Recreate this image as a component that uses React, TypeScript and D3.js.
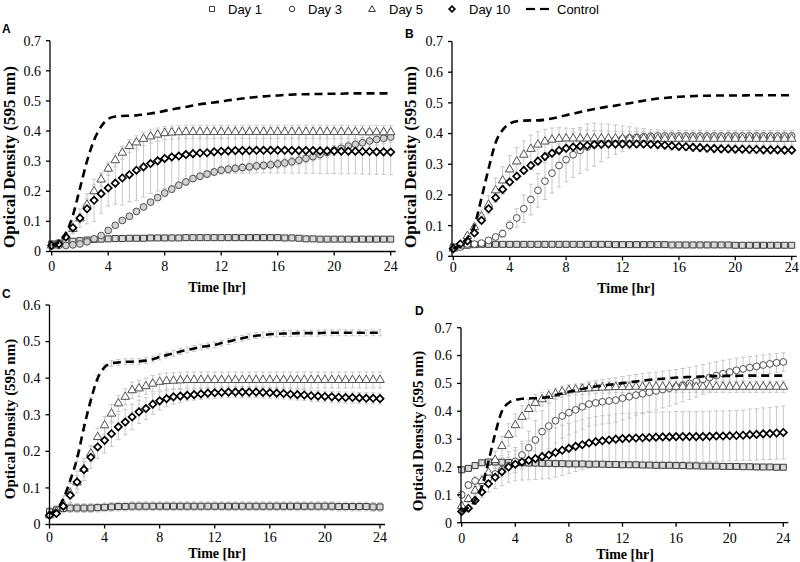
import React from 'react';
import * as d3 from 'd3';

// ---------- DATA ----------
const TIME = [0,0.5,1,1.5,2,2.5,3,3.5,4,4.5,5,5.5,6,6.5,7,7.5,8,8.5,9,9.5,10,10.5,11,11.5,12,12.5,13,13.5,14,14.5,15,15.5,16,16.5,17,17.5,18,18.5,19,19.5,20,20.5,21,21.5,22,22.5,23,23.5,24];
const X_TICKS = [0,4,8,12,16,20,24];
const SERIES_NAMES = ['Day 1','Day 3','Day 5','Day 10','Control'];

// Panel A
const A_DAY1 = [.025,.028,.031,.034,.036,.038,.040,.041,.042,.043, .043,.044,.044,.044,.045,.045,.045,.045,.045,.046, .046,.046,.046,.046,.046,.046,.046,.046,.046,.046, .046,.046,.046,.045,.045,.044,.042,.042,.041,.041, .041,.041,.041,.041,.041,.041,.041,.041,.041];
const A_DAY3 = [.020,.020,.020,.022,.025,.032,.042,.053,.070,.087, .103,.117,.133,.148,.164,.179,.194,.207,.220,.231, .242,.250,.257,.264,.270,.273,.276,.279,.281,.284, .286,.288,.291,.294,.298,.303,.309,.315,.322,.329, .336,.343,.350,.356,.361,.367,.372,.376,.380];
const A_DAY5 = [.020,.025,.050,.075,.110,.155,.200,.239,.275,.303, .328,.350,.362,.374,.382,.388,.393,.395,.396,.397, .397,.397,.397,.397,.397,.397,.397,.397,.397,.397, .397,.397,.397,.397,.397,.397,.397,.397,.397,.397, .397,.397,.397,.397,.396,.396,.396,.396,.396];
const A_DAY10 = [.020,.025,.048,.079,.111,.142,.170,.192,.211,.227, .244,.255,.270,.281,.292,.301,.309,.314,.317,.322, .325,.327,.328,.331,.333,.334,.335,.335,.335,.336, .336,.336,.336,.336,.335,.335,.335,.335,.334,.334, .334,.333,.333,.333,.332,.332,.331,.331,.330];
const A_CTRL = [.020,.030,.060,.120,.210,.300,.370,.415,.440,.448, .450,.451,.452,.455,.458,.462,.467,.472,.476,.480, .485,.489,.492,.495,.498,.502,.505,.508,.511,.513, .515,.517,.518,.520,.521,.522,.522,.523,.523,.524, .524,.524,.525,.525,.525,.525,.525,.525,.525];
const A_ERR1 = [.003,.003,.003,.003,.003,.003,.004,.004,.004,.004, .004,.004,.004,.004,.004,.004,.004,.004,.004,.004, .004,.004,.004,.004,.004,.004,.004,.004,.004,.004, .004,.004,.004,.004,.004,.004,.004,.004,.004,.004, .004,.004,.004,.004,.004,.004,.004,.004,.004];
const A_ERR3 = [.003,.003,.003,.003,.004,.004,.005,.005,.006,.006, .007,.007,.008,.008,.008,.009,.009,.010,.010,.010, .010,.011,.011,.011,.012,.012,.012,.012,.013,.013, .013,.013,.014,.014,.014,.015,.015,.015,.015,.016, .016,.016,.016,.017,.017,.017,.018,.018,.018];
const A_ERR5 = [.003,.004,.006,.010,.015,.020,.022,.022,.022,.022, .022,.022,.022,.022,.022,.022,.022,.022,.022,.022, .022,.022,.022,.022,.022,.022,.022,.022,.022,.022, .022,.022,.022,.022,.022,.022,.022,.022,.022,.022, .022,.022,.022,.022,.022,.022,.022,.022,.022];
const A_ERR10 = [.003,.004,.008,.020,.030,.050,.070,.065,.060,.070, .090,.090,.100,.100,.100,.100,.100,.095,.090,.088, .085,.082,.080,.078,.076,.075,.075,.075,.075,.075, .075,.075,.075,.075,.075,.075,.075,.075,.075,.075, .075,.075,.075,.075,.075,.075,.075,.075,.075];

// Panel B
const B_DAY1 = [.030,.033,.036,.038,.039,.039,.039,.039,.039,.039, .039,.039,.039,.039,.039,.039,.039,.039,.039,.039, .039,.039,.039,.038,.038,.038,.038,.038,.038,.038, .038,.037,.037,.037,.037,.037,.037,.037,.037,.037, .036,.036,.036,.036,.036,.036,.036,.036,.036];
const B_DAY3 = [.030,.030,.040,.040,.043,.052,.063,.074,.101,.125, .155,.185,.215,.245,.271,.296,.315,.331,.345,.356, .364,.370,.376,.380,.383,.386,.388,.390,.391,.392, .392,.392,.392,.392,.392,.392,.392,.392,.392,.392, .392,.392,.392,.392,.392,.392,.392,.392,.392];
const B_DAY5 = [.025,.035,.066,.095,.130,.168,.215,.247,.283,.309, .331,.350,.364,.374,.380,.383,.384,.384,.384,.384, .384,.384,.384,.384,.384,.384,.384,.384,.383,.383, .383,.383,.383,.383,.383,.383,.383,.383,.383,.383, .383,.383,.383,.383,.383,.383,.383,.383,.383];
const B_DAY10 = [.025,.040,.050,.076,.117,.155,.191,.218,.242,.261, .280,.296,.310,.325,.336,.345,.352,.356,.359,.361, .364,.365,.366,.366,.366,.366,.366,.366,.365,.364, .362,.360,.358,.357,.355,.354,.352,.351,.350,.350, .349,.349,.348,.348,.347,.347,.347,.346,.346];
const B_CTRL = [.025,.035,.060,.100,.190,.285,.370,.412,.432,.440, .442,.443,.443,.445,.449,.454,.460,.465,.470,.475, .480,.484,.488,.491,.495,.499,.503,.507,.511,.514, .516,.518,.520,.521,.522,.523,.523,.524,.524,.524, .524,.524,.525,.525,.525,.525,.525,.525,.525];
const B_ERR1 = [.004,.004,.004,.004,.004,.004,.004,.004,.004,.004, .004,.004,.004,.004,.004,.004,.004,.004,.004,.004, .004,.004,.004,.004,.004,.004,.004,.004,.004,.004, .004,.004,.004,.004,.004,.004,.004,.004,.004,.004, .004,.004,.004,.004,.004,.004,.004,.004,.004];
const B_ERR3 = [.004,.004,.004,.004,.005,.006,.010,.012,.015,.030, .045,.050,.055,.060,.065,.070,.072,.074,.075,.075, .070,.062,.055,.048,.042,.036,.030,.026,.022,.020, .018,.018,.018,.018,.018,.018,.018,.018,.018,.018, .018,.018,.018,.018,.018,.018,.018,.018,.018];
const B_ERR5 = [.004,.005,.008,.012,.020,.030,.040,.045,.045,.045, .045,.045,.042,.040,.038,.036,.034,.032,.030,.028, .026,.025,.024,.023,.022,.022,.022,.022,.022,.022, .020,.020,.020,.020,.020,.020,.020,.020,.020,.020, .020,.020,.020,.020,.020,.020,.020,.020,.020];
const B_ERR10 = [.004,.004,.006,.008,.010,.012,.012,.012,.012,.012, .012,.012,.012,.012,.012,.012,.012,.012,.012,.012, .012,.012,.012,.012,.012,.012,.012,.012,.012,.012, .012,.012,.012,.012,.012,.012,.012,.012,.012,.012, .012,.012,.012,.012,.012,.012,.012,.012,.012];

// Panel C (no Day 3 series)
const C_DAY1 = [.035,.040,.044,.045,.045,.045,.045,.046,.047,.048, .049,.049,.050,.050,.050,.050,.050,.050,.050,.050, .050,.050,.050,.050,.050,.050,.050,.050,.050,.050, .050,.050,.050,.050,.050,.050,.050,.050,.050,.050, .050,.050,.049,.049,.049,.049,.049,.048,.048];
const C_DAY5 = [.025,.035,.055,.085,.115,.152,.194,.239,.271,.303, .331,.349,.367,.372,.378,.385,.390,.392,.393,.394, .395,.395,.395,.395,.395,.395,.395,.395,.395,.395, .395,.395,.395,.395,.395,.395,.395,.395,.395,.395, .395,.395,.395,.395,.395,.395,.395,.395,.395];
const C_DAY10 = [.025,.030,.050,.080,.116,.150,.184,.212,.230,.248, .267,.280,.294,.308,.317,.329,.338,.344,.349,.351, .353,.355,.357,.359,.360,.361,.362,.362,.362,.362, .362,.361,.360,.359,.358,.356,.355,.354,.352,.351, .350,.349,.348,.347,.347,.346,.345,.345,.344];
const C_CTRL = [.030,.040,.070,.120,.180,.265,.340,.400,.430,.440, .443,.445,.445,.446,.448,.452,.458,.463,.468,.473, .477,.481,.485,.488,.491,.496,.500,.505,.509,.513, .516,.518,.520,.521,.522,.522,.523,.523,.523,.523, .524,.524,.524,.524,.524,.524,.524,.524,.524];
const C_ERR1 = [.012,.012,.012,.012,.012,.012,.012,.012,.012,.012, .012,.012,.012,.012,.012,.012,.012,.012,.012,.012, .012,.012,.012,.012,.012,.012,.012,.012,.012,.012, .012,.012,.012,.012,.012,.012,.012,.012,.012,.012, .012,.012,.012,.012,.012,.012,.012,.012,.012];
const C_ERR5 = [.004,.005,.008,.012,.018,.020,.022,.024,.024,.025, .022,.022,.022,.022,.022,.022,.022,.022,.022,.022, .022,.022,.022,.022,.022,.022,.022,.022,.022,.022, .022,.022,.022,.022,.022,.022,.022,.022,.022,.022, .022,.022,.022,.022,.022,.022,.022,.022,.022];
const C_ERR10 = [.004,.006,.010,.020,.030,.030,.030,.032,.035,.035, .035,.035,.035,.032,.030,.028,.025,.022,.020,.018, .015,.015,.015,.015,.015,.015,.015,.015,.015,.015, .015,.015,.015,.015,.015,.015,.015,.015,.015,.015, .015,.015,.015,.015,.015,.015,.015,.015,.015];
const C_ERRC = [.008,.008,.008,.008,.008,.008,.008,.008,.008,.008, .008,.008,.008,.008,.008,.008,.008,.008,.008,.008, .008,.008,.008,.008,.008,.008,.008,.008,.008,.008, .008,.008,.008,.008,.008,.008,.008,.008,.008,.008, .008,.008,.008,.008,.008,.008,.008,.008,.008];

// Panel D
const D_DAY1 = [.190,.195,.205,.215,.218,.218,.217,.216,.215,.215, .214,.214,.213,.213,.212,.212,.211,.211,.211,.210, .210,.210,.209,.209,.208,.208,.208,.207,.207,.206, .206,.206,.205,.205,.204,.204,.203,.203,.203,.202, .202,.202,.201,.201,.200,.200,.200,.199,.199];
const D_DAY3 = [.100,.135,.150,.145,.160,.175,.190,.205,.220,.243, .269,.297,.327,.347,.366,.383,.395,.405,.416,.426, .430,.434,.437,.440,.447,.452,.458,.463,.468,.473, .478,.483,.488,.494,.500,.507,.514,.521,.528,.535, .541,.547,.552,.557,.561,.566,.570,.574,.577];
const D_DAY5 = [.060,.085,.115,.150,.180,.225,.275,.315,.350,.380, .408,.430,.443,.455,.463,.470,.475,.478,.480,.482, .484,.485,.486,.487,.487,.487,.488,.488,.488,.488, .488,.488,.488,.488,.488,.488,.488,.488,.488,.488, .488,.488,.488,.488,.488,.488,.488,.488,.488];
const D_DAY10 = [.040,.052,.080,.110,.140,.163,.183,.200,.210,.218, .224,.230,.237,.243,.252,.260,.267,.274,.280,.286, .291,.294,.297,.300,.302,.303,.304,.305,.306,.307, .308,.308,.309,.309,.309,.309,.309,.310,.311,.311, .312,.313,.314,.316,.317,.319,.320,.322,.324];
const D_CTRL = [.040,.055,.080,.130,.220,.320,.400,.430,.440,.445, .446,.447,.448,.452,.458,.464,.470,.475,.480,.485, .489,.492,.495,.498,.501,.504,.507,.510,.513,.515, .517,.519,.521,.522,.523,.524,.525,.526,.526,.527, .527,.527,.528,.528,.528,.528,.528,.528,.528];
const D_ERR1 = [.008,.008,.008,.008,.008,.008,.008,.008,.008,.008, .008,.008,.008,.008,.008,.008,.008,.008,.008,.008, .008,.008,.008,.008,.008,.008,.008,.008,.008,.008, .008,.008,.008,.008,.008,.008,.008,.008,.008,.008, .008,.008,.008,.008,.008,.008,.008,.008,.008];
const D_ERR3 = [.010,.012,.015,.015,.018,.020,.025,.030,.040,.050, .060,.070,.075,.080,.080,.080,.080,.080,.080,.080, .080,.080,.080,.080,.078,.076,.074,.072,.070,.068, .066,.064,.062,.060,.058,.056,.054,.052,.050,.048, .046,.044,.042,.040,.038,.036,.035,.034,.033];
const D_ERR5 = [.010,.012,.015,.020,.025,.030,.035,.040,.040,.040, .035,.030,.025,.022,.020,.020,.020,.020,.020,.020, .020,.020,.020,.020,.020,.020,.020,.020,.020,.020, .020,.020,.020,.020,.020,.020,.020,.020,.020,.020, .020,.020,.020,.020,.020,.020,.020,.020,.020];
const D_ERR10 = [.008,.010,.015,.020,.030,.040,.050,.055,.060,.065, .070,.075,.080,.085,.088,.090,.090,.090,.090,.090, .090,.090,.090,.090,.090,.090,.090,.090,.090,.090, .090,.090,.090,.090,.090,.090,.090,.090,.090,.090, .090,.090,.090,.092,.092,.093,.093,.094,.095];

// ---------- LAYOUT ----------
type PanelDef = {
  letter: string;
  day1: number[]; day3: number[] | null; day5: number[]; day10: number[]; ctrl: number[];
  e1: number[]; e3: number[] | null; e5: number[]; e10: number[]; eC: number[] | null;
  yMax: number;
  axisX: number; x0: number; x1: number; y0: number; yTop: number;
  xLabelBase: number; titleX: number; titleBase: number;
  yTitleX: number; yTitleY: number; yTitleSize: number;
  letterX: number; letterY: number;
  circleFill: string;
};

const PANELS: PanelDef[] = [
  { letter: 'A', day1: A_DAY1, day3: A_DAY3, day5: A_DAY5, day10: A_DAY10, ctrl: A_CTRL,
    e1: A_ERR1, e3: A_ERR3, e5: A_ERR5, e10: A_ERR10, eC: null, yMax: 0.7,
    axisX: 50, x0: 51.7, x1: 390.7, y0: 251.5, yTop: 40.7,
    xLabelBase: 271, titleX: 217, titleBase: 292, yTitleX: 9, yTitleY: 157, yTitleSize: 17,
    letterX: 2, letterY: 33, circleFill: '#d2d2d2' },
  { letter: 'B', day1: B_DAY1, day3: B_DAY3, day5: B_DAY5, day10: B_DAY10, ctrl: B_CTRL,
    e1: B_ERR1, e3: B_ERR3, e5: B_ERR5, e10: B_ERR10, eC: null, yMax: 0.7,
    axisX: 452, x0: 453.3, x1: 791.7, y0: 256.3, yTop: 41.5,
    xLabelBase: 271.5, titleX: 626, titleBase: 292.5, yTitleX: 410, yTitleY: 157, yTitleSize: 17,
    letterX: 405, letterY: 38, circleFill: '#ffffff' },
  { letter: 'C', day1: C_DAY1, day3: null, day5: C_DAY5, day10: C_DAY10, ctrl: C_CTRL,
    e1: C_ERR1, e3: null, e5: C_ERR5, e10: C_ERR10, eC: C_ERRC, yMax: 0.6,
    axisX: 49.5, x0: 49.5, x1: 380, y0: 524.5, yTop: 305,
    xLabelBase: 541.5, titleX: 217, titleBase: 557.5, yTitleX: 10, yTitleY: 419, yTitleSize: 15,
    letterX: 2, letterY: 298, circleFill: '#ffffff' },
  { letter: 'D', day1: D_DAY1, day3: D_DAY3, day5: D_DAY5, day10: D_DAY10, ctrl: D_CTRL,
    e1: D_ERR1, e3: D_ERR3, e5: D_ERR5, e10: D_ERR10, eC: null, yMax: 0.7,
    axisX: 461, x0: 461.7, x1: 783.3, y0: 522.7, yTop: 327.7,
    xLabelBase: 542.5, titleX: 625, titleBase: 559, yTitleX: 418, yTitleY: 431, yTitleSize: 15,
    letterX: 415, letterY: 315, circleFill: '#ffffff' },
];

const SERIF = '"Liberation Serif", "Times New Roman", serif';
const SANS = '"Liberation Sans", Arial, sans-serif';
const ERR_COLOR = '#c8c8c8';

const squarePath = d3.symbol().type(d3.symbolSquare).size(36)()!;
const circlePath = d3.symbol().type(d3.symbolCircle).size(36)()!;
const trianglePath = d3.symbol().type(d3.symbolTriangle).size(32)()!;
const diamondPath = d3.symbol().type(d3.symbolSquare).size(26)()!;

const STYLE = {
  sq: { stroke: '#3a3a3a', fill: '#d9d9d9', sw: 1 },
  ci: { stroke: '#505050', sw: 1 },
  tr: { stroke: '#505050', fill: '#ffffff', sw: 1 },
  di: { stroke: '#000000', fill: '#ffffff', sw: 1.7 },
};

function ErrorBars({ vals, errs, x, y }: { vals: number[]; errs: number[] | null; x: any; y: any }) {
  if (!errs) return null;
  return (
    <g stroke={ERR_COLOR} strokeWidth={1} fill="none">
      {vals.map((v, i) => {
        const e = errs[i];
        if (!e) return null;
        const cx = x(TIME[i]);
        const yt = y(v + e), yb = y(v - e);
        return (
          <g key={i}>
            <line x1={cx} x2={cx} y1={yt} y2={yb} />
            <line x1={cx - 2.2} x2={cx + 2.2} y1={yt} y2={yt} />
            <line x1={cx - 2.2} x2={cx + 2.2} y1={yb} y2={yb} />
          </g>
        );
      })}
    </g>
  );
}

function Markers({ vals, x, y, path, stroke, fill, sw, rotate }: any) {
  return (
    <g>
      {vals.map((v: number, i: number) => (
        <path key={i} d={path}
          transform={`translate(${x(TIME[i])},${y(v)})${rotate ? ' rotate(45)' : ''}`}
          stroke={stroke} fill={fill} strokeWidth={sw} />
      ))}
    </g>
  );
}

function Panel({ p }: { p: PanelDef }) {
  const x = d3.scaleLinear().domain([0, 24]).range([p.x0, p.x1]);
  const y = d3.scaleLinear().domain([0, p.yMax]).range([p.y0, p.yTop]);
  const yTicks = y.ticks(Math.round(p.yMax * 10));
  const ctrlLine = d3.line<number>()
    .x((_, i) => x(TIME[i]))
    .y((d) => y(d))
    .curve(d3.curveMonotoneX);
  return (
    <g>
      <ErrorBars vals={p.day1} errs={p.e1} x={x} y={y} />
      {p.day3 && <ErrorBars vals={p.day3} errs={p.e3} x={x} y={y} />}
      <ErrorBars vals={p.day5} errs={p.e5} x={x} y={y} />
      <ErrorBars vals={p.day10} errs={p.e10} x={x} y={y} />
      <ErrorBars vals={p.ctrl} errs={p.eC} x={x} y={y} />

      <Markers vals={p.day1} x={x} y={y} path={squarePath} {...STYLE.sq} />
      {p.day3 && <Markers vals={p.day3} x={x} y={y} path={circlePath} stroke={STYLE.ci.stroke} fill={p.circleFill} sw={STYLE.ci.sw} />}
      <Markers vals={p.day5} x={x} y={y} path={trianglePath} {...STYLE.tr} />
      <Markers vals={p.day10} x={x} y={y} path={diamondPath} {...STYLE.di} rotate />

      <path d={ctrlLine(p.ctrl)!} fill="none" stroke="#000" strokeWidth={2.6} strokeDasharray="8,5" />

      <g stroke="#000" strokeWidth={1.3} fill="none">
        <line x1={p.axisX} x2={p.axisX} y1={p.y0 + 0.5} y2={p.yTop} />
        <line x1={p.axisX} x2={p.x1 + 5} y1={p.y0} y2={p.y0} />
        {yTicks.map((t) => (
          <line key={'yt' + t} x1={p.axisX - 4} x2={p.axisX} y1={y(t)} y2={y(t)} />
        ))}
        {X_TICKS.map((t) => (
          <line key={'xt' + t} x1={x(t)} x2={x(t)} y1={p.y0} y2={p.y0 + 4} />
        ))}
      </g>
      <g fontFamily={SERIF} fontSize={14} fill="#000">
        {yTicks.map((t) => (
          <text key={'yl' + t} x={p.axisX - 9} y={y(t)} dy="0.35em" textAnchor="end">
            {t === 0 ? '0' : t.toFixed(1)}
          </text>
        ))}
        {X_TICKS.map((t) => (
          <text key={'xl' + t} x={x(t)} y={p.xLabelBase} textAnchor="middle">{t}</text>
        ))}
      </g>
      <text x={p.titleX} y={p.titleBase} textAnchor="middle" fontFamily={SERIF} fontWeight="bold" fontSize={14}>Time [hr]</text>
      <text transform={`translate(${p.yTitleX},${p.yTitleY}) rotate(-90)`} textAnchor="middle" dy="0.35em"
        fontFamily={SERIF} fontWeight="bold" fontSize={p.yTitleSize}>Optical Density (595 nm)</text>
      <text x={p.letterX} y={p.letterY} fontFamily={SANS} fontWeight="bold" fontSize={12}>{p.letter}</text>
    </g>
  );
}

function Legend() {
  const cy = 9;
  return (
    <g>
      <path d={d3.symbol().type(d3.symbolSquare).size(26)()!} transform={`translate(212,${cy})`} stroke="#333" fill="#fff" strokeWidth={1} />
      <path d={d3.symbol().type(d3.symbolCircle).size(24)()!} transform={`translate(292,${cy})`} stroke="#333" fill="#fff" strokeWidth={1} />
      <path d={d3.symbol().type(d3.symbolTriangle).size(20)()!} transform={`translate(372,${cy + 0.5})`} stroke="#333" fill="#fff" strokeWidth={1} />
      <path d={d3.symbol().type(d3.symbolSquare).size(16)()!} transform={`translate(452,${cy}) rotate(45)`} stroke="#000" fill="#fff" strokeWidth={1.7} />
      <line x1={526} x2={535} y1={cy} y2={cy} stroke="#000" strokeWidth={2.2} />
      <line x1={540} x2={549} y1={cy} y2={cy} stroke="#000" strokeWidth={2.2} />
      <g fontFamily={SANS} fontSize={13} fill="#000">
        <text x={228} y={13.5}>{SERIES_NAMES[0]}</text>
        <text x={308} y={13.5}>{SERIES_NAMES[1]}</text>
        <text x={389} y={13.5}>{SERIES_NAMES[2]}</text>
        <text x={469} y={13.5}>{SERIES_NAMES[3]}</text>
        <text x={557} y={13.5}>{SERIES_NAMES[4]}</text>
      </g>
    </g>
  );
}

export default function App() {
  return (
    <svg width={800} height={562} style={{ position: 'absolute', left: 0, top: 0, background: '#fff' }}>
      <rect x={0} y={0} width={800} height={562} fill="#fff" />
      <Legend />
      {PANELS.map((p) => <Panel key={p.letter} p={p} />)}
    </svg>
  );
}
